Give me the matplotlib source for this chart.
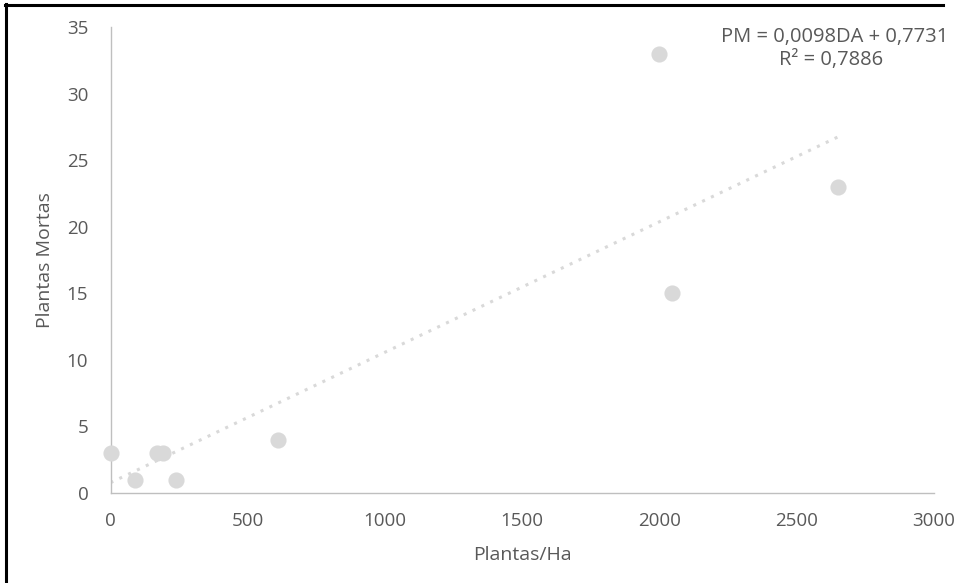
import matplotlib
matplotlib.use("Agg")
import matplotlib.pyplot as plt
from matplotlib.lines import Line2D
import numpy as np

# Data
plantas_ha = [0, 90, 170, 190, 240, 610, 2000, 2045, 2650]
plantas_mortas = [3, 1, 3, 3, 1, 4, 33, 15, 23]
slope = 0.0098
intercept = 0.7731
r2_label = "0,7886"
x_ticks = [0, 500, 1000, 1500, 2000, 2500, 3000]
y_ticks = [0, 5, 10, 15, 20, 25, 30, 35]

plt.rcParams['font.family'] = ['Open Sans', 'DejaVu Sans']

W, H = 958, 583
fig = plt.figure(figsize=(W / 100, H / 100), dpi=100)
ax = fig.add_axes([110.5 / W, 1 - 493 / H, (934 - 110.5) / W, (493 - 27) / H])

grey_axis = '#BFBFBF'
grey_text = '#595959'
pt_color = '#D9D9D9'

ax.scatter(plantas_ha, plantas_mortas, s=135, color=pt_color, zorder=3, linewidths=0,
           clip_on=False)

xt = np.array([min(plantas_ha), max(plantas_ha)])
ax.plot(xt, slope * xt + intercept, color=pt_color, lw=2.2,
        linestyle=(0, (1, 2.2)), zorder=2)

ax.set_xlim(0, 3000)
ax.set_ylim(0, 35)
ax.set_xticks(x_ticks)
ax.set_yticks(y_ticks)
ax.tick_params(length=0, labelsize=13.5, colors=grey_text)
ax.tick_params(axis='x', pad=14)
ax.tick_params(axis='y', pad=16)
for s in ['top', 'right']:
    ax.spines[s].set_visible(False)
for s in ['left', 'bottom']:
    ax.spines[s].set_color(grey_axis)
    ax.spines[s].set_linewidth(1)

ax.set_xlabel('Plantas/Ha', fontsize=14, color=grey_text, labelpad=11)
ax.set_ylabel('Plantas Mortas', fontsize=14, color=grey_text, labelpad=9)

fig.text(835 / W, 1 - 37 / H, 'PM = 0,0098DA + 0,7731', ha='center', va='center',
         fontsize=14.5, color=grey_text)
fig.text(831 / W, 1 - 60 / H, 'R² = ' + r2_label, ha='center', va='center',
         fontsize=14.5, color=grey_text)

# Frame of the cropped figure
fig.add_artist(Line2D([6 / W, 6 / W], [0, 1 - 4 / H], transform=fig.transFigure,
                      color='black', lw=2.2))
fig.add_artist(Line2D([5 / W, 943 / W], [1 - 5 / H, 1 - 5 / H], transform=fig.transFigure,
                      color='black', lw=2.2))

fig.savefig('out.png', dpi=100)
